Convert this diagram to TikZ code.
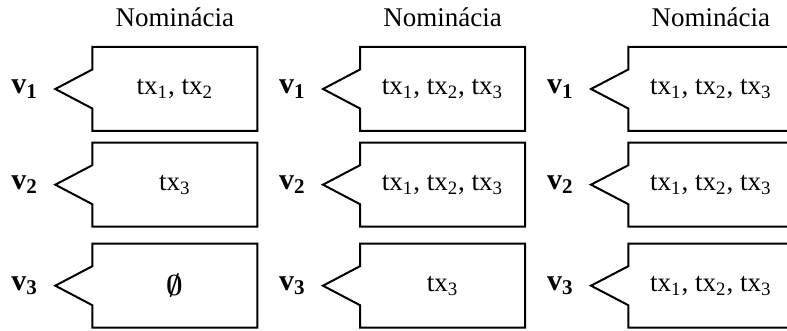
\documentclass[tikz,border=0pt]{standalone}
\usepackage{amsmath}
\usepackage{fontspec}
\setmainfont{Liberation Serif}
\usetikzlibrary{shapes.callouts, positioning}

\begin{document}
\begin{tikzpicture}[x=0.5pt, y=-0.5pt,
    nom/.style={rectangle callout, draw, line width=1pt, inner sep=0pt,
        minimum width=82.5pt, minimum height=42pt, callout pointer width=19.5pt,
        font=\fontsize{13.5}{16}\selectfont},
    vlbl/.style={inner sep=0pt, anchor=east, font=\fontsize{15}{18}\selectfont\bfseries},
    head/.style={inner sep=0pt, font=\fontsize{13.5}{16}\selectfont}]
    \useasboundingbox (0,0) rectangle (787,331);
    % vertex labels
    \node[vlbl] (v11) at (38.3,89) {v\textsubscript{1}};
    \node[vlbl] (v12) at (38.3,184.7) {v\textsubscript{2}};
    \node[vlbl] (v13) at (38.3,285.7) {v\textsubscript{3}};
    \node[vlbl] (v21) at (306,89) {v\textsubscript{1}};
    \node[vlbl] (v22) at (306,184.7) {v\textsubscript{2}};
    \node[vlbl] (v23) at (306,285.7) {v\textsubscript{3}};
    \node[vlbl] (v31) at (574,89) {v\textsubscript{1}};
    \node[vlbl] (v32) at (574,184.7) {v\textsubscript{2}};
    \node[vlbl] (v33) at (574,285.7) {v\textsubscript{3}};
    % column 1
    \node[nom, callout absolute pointer={([xshift=8.5pt]v11.east)}] (b11) at (174.8,89) {tx\textsubscript{1}, tx\textsubscript{2}};
    \node[nom, callout absolute pointer={([xshift=8.5pt]v12.east)}] (b12) at (174.8,184.7) {tx\textsubscript{3}};
    \node[nom, callout absolute pointer={([xshift=8.5pt]v13.east)}] (b13) at (174.8,285.7) {$\boldsymbol{\emptyset}$};
    % column 2
    \node[nom, callout absolute pointer={([xshift=8.5pt]v21.east)}] (b21) at (442.5,89) {tx\textsubscript{1}, tx\textsubscript{2}, tx\textsubscript{3}};
    \node[nom, callout absolute pointer={([xshift=8.5pt]v22.east)}] (b22) at (442.5,184.7) {tx\textsubscript{1}, tx\textsubscript{2}, tx\textsubscript{3}};
    \node[nom, callout absolute pointer={([xshift=8.5pt]v23.east)}] (b23) at (442.5,285.7) {tx\textsubscript{3}};
    % column 3
    \node[nom, callout absolute pointer={([xshift=8.5pt]v31.east)}] (b31) at (710.8,89) {tx\textsubscript{1}, tx\textsubscript{2}, tx\textsubscript{3}};
    \node[nom, callout absolute pointer={([xshift=8.5pt]v32.east)}] (b32) at (710.8,184.7) {tx\textsubscript{1}, tx\textsubscript{2}, tx\textsubscript{3}};
    \node[nom, callout absolute pointer={([xshift=8.5pt]v33.east)}] (b33) at (710.8,285.7) {tx\textsubscript{1}, tx\textsubscript{2}, tx\textsubscript{3}};
    % headers
    \node[head, above=9.5pt of b11] (h1) {Nominácia};
    \node[head, above=9.5pt of b21] (h2) {Nominácia};
    \node[head, above=9.5pt of b31] (h3) {Nominácia};
\end{tikzpicture}
\end{document}
